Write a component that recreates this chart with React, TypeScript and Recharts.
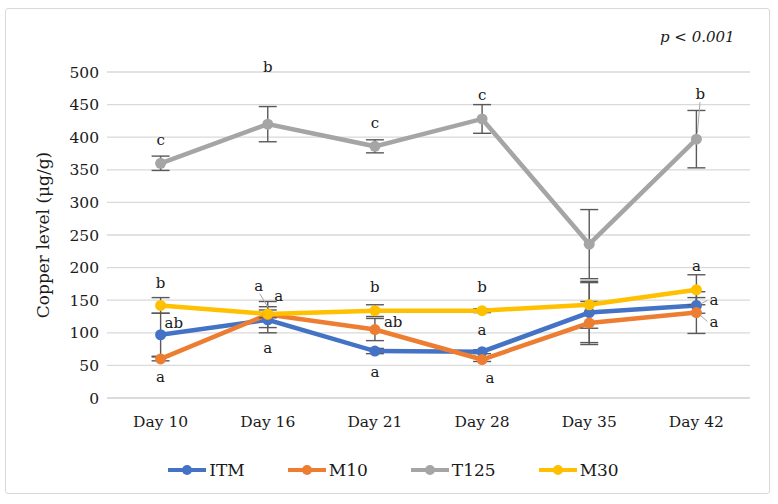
import React from 'react';
import { LineChart, Line, XAxis, YAxis, CartesianGrid, ErrorBar, LabelList } from 'recharts';

const days = ['Day 10', 'Day 16', 'Day 21', 'Day 28', 'Day 35', 'Day 42'];
const yTicks = [0, 50, 100, 150, 200, 250, 300, 350, 400, 450, 500];

const itmValues = [97, 120, 72, 71, 131, 142];
const m10Values = [60, 128, 105, 59, 115, 131];
const t125Values = [360, 420, 386, 428, 236, 397];
const m30Values = [142, 129, 134, 134, 143, 166];

const itmErr = [33, 20, 4, 3, 46, 12];
const m10Err = [3, 20, 17, 3, 33, 32];
const t125Err = [11, 27, 10, 22, 53, 44];
const m30Err = [12, 6, 9, 3, 36, 23];

const itmLetters = ['ab', 'a', 'a', 'a', '', 'a'];
const m10Letters = ['a', 'a', 'ab', 'a', '', 'a'];
const t125Letters = ['c', 'b', 'c', 'c', '', 'b'];
const m30Letters = ['b', 'a', 'b', 'b', '', 'a'];

const data = days.map((day, i) => ({
  day,
  itm: itmValues[i], itmE: itmErr[i], itmL: itmLetters[i],
  m10: m10Values[i], m10E: m10Err[i], m10L: m10Letters[i],
  t125: t125Values[i], t125E: t125Err[i], t125L: t125Letters[i],
  m30: m30Values[i], m30E: m30Err[i], m30L: m30Letters[i],
}));

const FONT = '"DejaVu Serif", serif';

type Place = { dx: number; dy: number; anchor?: 'start' | 'middle'; leader?: boolean };
const placement: Record<string, Place[]> = {
  itm: [
    { dx: 4, dy: -12, anchor: 'start' },
    { dx: 0, dy: 28 },
    { dx: 0, dy: 21 },
    { dx: 0, dy: -22 },
    { dx: 0, dy: 0 },
    { dx: 13, dy: -5, anchor: 'start', leader: true },
  ],
  m10: [
    { dx: 0, dy: 18 },
    { dx: -9, dy: -29, leader: true },
    { dx: 9, dy: -8, anchor: 'start' },
    { dx: 8, dy: 18 },
    { dx: 0, dy: 0 },
    { dx: 13, dy: 9, anchor: 'start', leader: true },
  ],
  t125: [
    { dx: 0, dy: -23 },
    { dx: 0, dy: -57 },
    { dx: 0, dy: -23 },
    { dx: 0, dy: -24 },
    { dx: 0, dy: 0 },
    { dx: 4, dy: -45, leader: true },
  ],
  m30: [
    { dx: 0, dy: -22 },
    { dx: 11, dy: -18 },
    { dx: 0, dy: -24 },
    { dx: 0, dy: -24 },
    { dx: 0, dy: 0 },
    { dx: 0, dy: -24 },
  ],
};

const makeLabel = (key: string) => (props: any) => {
  const { x, y, index, value } = props;
  if (!value) return null;
  const p = placement[key][index];
  const lx = x + p.dx;
  const ly = y + p.dy;
  let leader = null;
  if (p.leader) {
    if (p.anchor === 'start') {
      leader = <line x1={x + 4} y1={y + p.dy * 0.3} x2={lx - 2} y2={ly} stroke="#a6a6a6" strokeWidth={1} />;
    } else {
      leader = <line x1={x + p.dx * 0.9} y1={ly + 8} x2={x + 1} y2={y - 6} stroke="#a6a6a6" strokeWidth={1} />;
    }
  }
  return (
    <g>
      {leader}
      <text x={lx} y={ly} textAnchor={p.anchor || 'middle'} dominantBaseline="central"
        fontFamily={FONT} fontSize={15} fill="#1a1a1a">{value}</text>
    </g>
  );
};

const YLabel = (props: any) => {
  const vb = props.viewBox || { x: 0, y: 72, width: 107, height: 326 };
  const cx = vb.x + 43;
  const cy = vb.y + vb.height / 2;
  return (
    <text x={cx} y={cy} transform={`rotate(-90, ${cx}, ${cy})`} textAnchor="middle" dominantBaseline="central"
      fontFamily={FONT} fontSize={17} fill="#1a1a1a">Copper level (μg/g)</text>
  );
};

const series = [
  { key: 'itm', name: 'ITM', color: '#4472C4' },
  { key: 'm10', name: 'M10', color: '#ED7D31' },
  { key: 't125', name: 'T125', color: '#A5A5A5' },
  { key: 'm30', name: 'M30', color: '#FFC000' },
];

export default function App() {
  return (
    <div style={{ position: 'absolute', left: 0, top: 0, width: 778, height: 504, background: '#fff' }}>
      <div style={{ position: 'absolute', left: 5, top: 8, width: 765, height: 486, border: '1px solid #d9d9d9', borderRadius: 3, boxSizing: 'border-box' }} />
      <div style={{ position: 'absolute', left: 0, top: 0 }}>
        <LineChart width={778} height={504} data={data} margin={{ top: 72, right: 28, left: 0, bottom: 66 }}>
          <CartesianGrid vertical={false} stroke="#d9d9d9" strokeWidth={1.3} />
          <XAxis dataKey="day" padding={{ left: 53.6, right: 53.6 }} axisLine={{ stroke: '#d9d9d9', strokeWidth: 1.3 }}
            tickLine={false} tickMargin={12} height={40}
            tick={{ fontFamily: FONT, fontSize: 15.5, fill: '#1a1a1a' }} />
          <YAxis domain={[0, 500]} ticks={yTicks} width={107} axisLine={false} tickLine={false} interval={0}
            tick={{ fontFamily: FONT, fontSize: 15.5, fill: '#1a1a1a' }} label={<YLabel />} />
          {series.map((s) => (
            <Line key={s.key} dataKey={s.key} name={s.name} stroke={s.color} strokeWidth={4.5}
              dot={{ r: 5.5, fill: s.color, stroke: s.color, strokeWidth: 0 }} activeDot={false}
              isAnimationActive={false}>
              <ErrorBar dataKey={`${s.key}E`} direction="y" width={9} stroke="#595959" strokeWidth={1.4} />
              <LabelList dataKey={`${s.key}L`} content={makeLabel(s.key)} />
            </Line>
          ))}
        </LineChart>
      </div>
      <div style={{ position: 'absolute', left: 660, top: 28, fontFamily: FONT, fontStyle: 'italic', fontSize: 15, color: '#1a1a1a' }}>
        p &lt; 0.001
      </div>
      <div style={{ position: 'absolute', left: 4, width: 778, top: 459, display: 'flex', justifyContent: 'center', gap: 42, fontFamily: FONT, fontSize: 17, color: '#1a1a1a' }}>
        {series.map((s) => (
          <div key={s.key} style={{ display: 'flex', alignItems: 'center', height: 22 }}>
            <svg width={40} height={14} style={{ marginRight: 2 }}>
              <line x1={1} y1={7} x2={39} y2={7} stroke={s.color} strokeWidth={4} />
              <circle cx={20} cy={7} r={5} fill={s.color} />
            </svg>
            <span>{s.name}</span>
          </div>
        ))}
      </div>
    </div>
  );
}
